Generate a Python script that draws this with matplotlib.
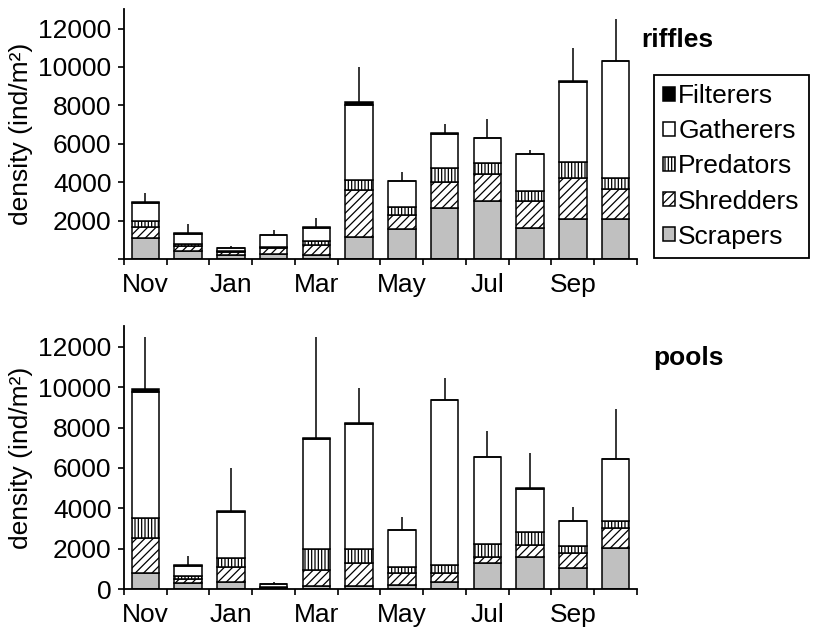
import matplotlib
matplotlib.use("Agg")
import matplotlib.pyplot as plt
import numpy as np

plt.rcParams['font.family'] = ['Liberation Sans', 'DejaVu Sans']
plt.rcParams['hatch.linewidth'] = 0.9

months = ['Nov', 'Dec', 'Jan', 'Feb', 'Mar', 'Apr', 'May', 'Jun', 'Jul', 'Aug', 'Sep', 'Oct']
groups = ['Scrapers', 'Shredders', 'Predators', 'Gatherers', 'Filterers']

# riffles (ind/m2), one value per month
rif_scrapers = [1090, 450, 225, 280, 225, 1180, 1560, 2650, 3030, 1610, 2095, 2095]
rif_shredders = [610, 240, 140, 290, 520, 2420, 745, 1385, 1400, 1420, 2150, 1540]
rif_predators = [310, 105, 85, 90, 225, 520, 430, 690, 555, 540, 795, 570]
rif_gatherers = [930, 535, 146, 585, 670, 3900, 1315, 1800, 1315, 1880, 4205, 6090]
rif_filterers = [60, 20, 10, 20, 20, 170, 20, 20, 20, 20, 20, 20]
rif_err = [460, 470, 90, 260, 470, 1820, 485, 485, 950, 210, 1730, 2200]

# pools
pool_scrapers = [825, 300, 380, 50, 165, 165, 215, 380, 1320, 1615, 1040, 2025]
pool_shredders = [1700, 195, 740, 50, 790, 1120, 610, 445, 295, 575, 740, 990]
pool_predators = [990, 165, 445, 30, 1020, 690, 300, 380, 625, 625, 380, 380]
pool_gatherers = [6260, 490, 2235, 120, 5445, 6180, 1790, 8135, 4300, 2160, 1200, 3030]
pool_filterers = [110, 50, 70, 20, 80, 80, 20, 20, 20, 20, 20, 20]
pool_err = [2570, 445, 2140, 100, 4960, 1700, 660, 1070, 1270, 1765, 710, 2455]

styles = {
    'Scrapers': dict(facecolor='#c0c0c0', hatch=None),
    'Shredders': dict(facecolor='white', hatch='////'),
    'Predators': dict(facecolor='white', hatch='|||||'),
    'Gatherers': dict(facecolor='white', hatch=None),
    'Filterers': dict(facecolor='black', hatch=None),
}

fig = plt.figure(figsize=(8.2, 6.36), dpi=100)
ax1 = fig.add_axes([0.1512, 0.5923, 0.6256, 0.3931])
ax2 = fig.add_axes([0.1512, 0.0734, 0.6256, 0.4134])


def draw_panel(ax, layers, err, show_zero):
    x = np.arange(len(months))
    bottom = np.zeros(len(months))
    handles = {}
    for name, vals in zip(groups, layers):
        st = styles[name]
        b = ax.bar(x, vals, 0.64, bottom=bottom, color=st['facecolor'],
                   edgecolor='black', linewidth=1.1, hatch=st['hatch'], label=name)
        handles[name] = b
        bottom = bottom + np.array(vals)
    ax.errorbar(x, bottom, yerr=[np.zeros(len(err)), err], fmt='none',
                ecolor='black', elinewidth=1.1, capsize=0)
    ax.set_xlim(-0.5, len(months) - 0.5)
    ax.set_ylim(0, 13000)
    for s in ['top', 'right']:
        ax.spines[s].set_visible(False)
    for s in ['left', 'bottom']:
        ax.spines[s].set_linewidth(1.3)
    ax.set_xticks(np.arange(-0.5, len(months)), labels=[])
    ax.set_xticks(x[::2], labels=months[::2], minor=True)
    ax.tick_params(axis='x', which='major', direction='out', length=4, width=1.2)
    ax.tick_params(axis='x', which='minor', length=0, pad=10, labelsize=19)
    yt = np.arange(0, 12001, 2000)
    ylabels = [str(v) for v in yt]
    if not show_zero:
        ylabels[0] = ''
    ax.set_yticks(yt, labels=ylabels)
    ax.tick_params(axis='y', direction='out', length=4, width=1.2, pad=5, labelsize=19)
    ax.set_ylabel('density (ind/m²)', fontsize=19)
    ax.yaxis.set_label_coords(-0.178, 0.5)
    return handles


h = draw_panel(ax1, [rif_scrapers, rif_shredders, rif_predators, rif_gatherers, rif_filterers],
               rif_err, False)
draw_panel(ax2, [pool_scrapers, pool_shredders, pool_predators, pool_gatherers, pool_filterers],
           pool_err, True)

fig.text(0.782, 0.937, 'riffles', fontsize=19, fontweight='bold', va='center')
fig.text(0.797, 0.437, 'pools', fontsize=19, fontweight='bold', va='center')

order = ['Filterers', 'Gatherers', 'Predators', 'Shredders', 'Scrapers']
leg = fig.legend([h[n] for n in order], order, loc='upper left',
                 bbox_to_anchor=(0.7976, 0.882), fontsize=19,
                 handlelength=0.45, handleheight=0.45, handletextpad=0.12,
                 labelspacing=0.42, borderpad=0.35, borderaxespad=0,
                 fancybox=False, framealpha=1, edgecolor='black')
leg.get_frame().set_linewidth(1.3)

fig.savefig('out.png', dpi=100)
